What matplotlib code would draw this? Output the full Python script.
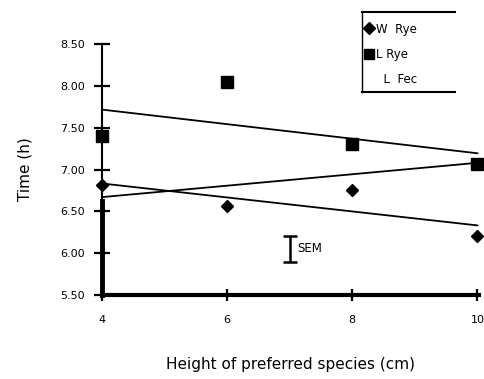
import numpy as np
import matplotlib
matplotlib.use("Agg")
import matplotlib.pyplot as plt
from matplotlib.lines import Line2D

# species height (cm)
heights = [4, 6, 8, 10]
# mean time (h) per group
w_rye = [6.82, 6.56, 6.75, 6.20]
l_rye = [7.40, 8.05, 7.30, 7.07]
# third group: only its trend line shows, values at 4 and 10 cm
l_fec_x = [4, 10]
l_fec_trend = [6.67, 7.08]

legend_names = ["W  Rye", "L Rye", "  L  Fec"]
y_ticks = [5.5, 6.0, 6.5, 7.0, 7.5, 8.0, 8.5]
y_ticklabels = ["5.50", "6.00", "6.50", "7.00", "7.50", "8.00", "8.50"]
x_ticks = [4, 6, 8, 10]

sem_x = 7.0
sem_mid = 6.05
sem_half = 0.15

fig = plt.figure(figsize=(4.84, 3.79), dpi=100)
ax = fig.add_axes([0.2107, 0.2216, 0.7795, 0.6623])

# data points
ax.plot(heights, w_rye, "D", color="black", ms=6.5, clip_on=False, zorder=4)
ax.plot(heights, l_rye, "s", color="black", ms=8.5, clip_on=False, zorder=4)

# linear fits
xx = np.array([4, 10])
for ys in (w_rye, l_rye):
    k, b = np.polyfit(heights, ys, 1)
    ax.plot(xx, k * xx + b, color="black", lw=1.3, clip_on=False)
ax.plot(l_fec_x, l_fec_trend, color="black", lw=1.3, clip_on=False)

# SEM bar
ax.errorbar([sem_x], [sem_mid], yerr=[sem_half], fmt="none", ecolor="black",
            elinewidth=1.8, capsize=5, capthick=1.8)
ax.text(sem_x + 0.12, sem_mid, "SEM", fontsize=8.5, va="center", ha="left")

ax.set_xlim(4, 10.03)
ax.set_ylim(5.5, 8.5)
ax.set_yticks(y_ticks)
ax.set_yticklabels(y_ticklabels)
ax.set_xticks(x_ticks)

for s in ("top", "right"):
    ax.spines[s].set_visible(False)
ax.spines["left"].set_linewidth(1.5)
ax.spines["bottom"].set_linewidth(3)
# thick part of the y axis near the bottom
ax.axvline(4, ymin=0, ymax=0.373, color="black", lw=3.5, clip_on=False)

ax.tick_params(axis="y", direction="inout", length=12, width=1.6, pad=6,
               labelsize=8)
ax.tick_params(axis="x", direction="inout", length=9, width=1.6, pad=10,
               labelsize=8)

ax.set_ylabel("Time (h)", fontsize=11, labelpad=20)
ax.set_xlabel("Height of preferred species (cm)", fontsize=11, labelpad=23)

# legend with open right side
handles = [
    Line2D([], [], marker="D", color="black", ls="none", ms=6),
    Line2D([], [], marker="s", color="black", ls="none", ms=7),
    Line2D([], [], ls="none"),
]
leg = fig.legend(handles, legend_names, loc="upper left",
                 bbox_to_anchor=(0.745, 0.953), frameon=False, fontsize=8.5,
                 handlelength=0.6, handletextpad=0.3, labelspacing=1.05,
                 borderaxespad=0)
fig.add_artist(Line2D([0.748, 0.94], [0.968, 0.968], color="black", lw=1.5))
fig.add_artist(Line2D([0.748, 0.748], [0.968, 0.757], color="black", lw=1.0))
fig.add_artist(Line2D([0.748, 0.94], [0.757, 0.757], color="black", lw=1.5))

fig.savefig("out.png", dpi=100)
